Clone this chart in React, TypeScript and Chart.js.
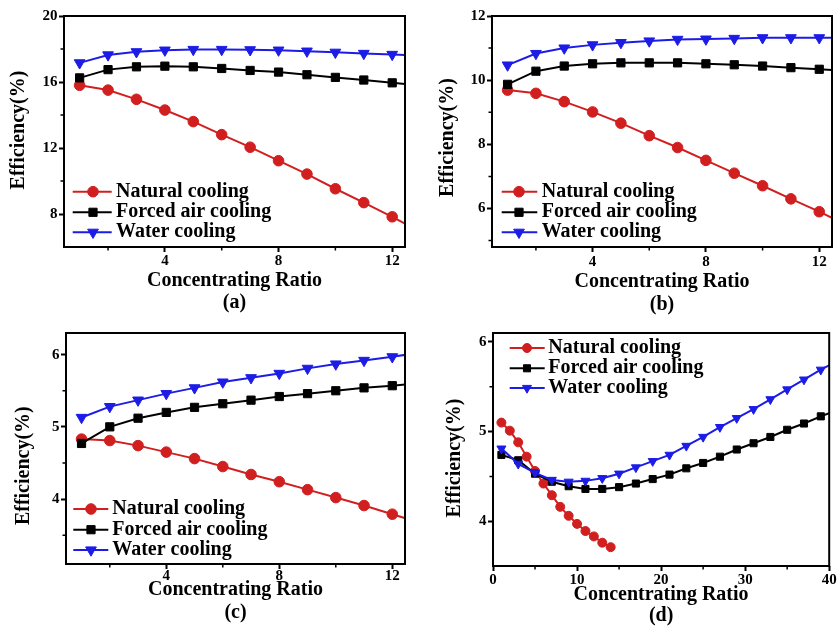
import React, { useEffect, useRef } from 'react';
import { Chart, registerables } from 'chart.js';
import { drawPoint } from 'chart.js/helpers';

Chart.register(...registerables);

// ---------------- data ----------------
const SERIES_NAMES = ['Natural cooling', 'Forced air cooling', 'Water cooling'];

const ratioABC = [1, 2, 3, 4, 5, 6, 7, 8, 9, 10, 11, 12, 13];

const naturalA = [15.8, 15.51, 14.95, 14.3, 13.6, 12.81, 12.05, 11.23, 10.42, 9.53, 8.69, 7.83, 6.9];
const forcedA = [16.25, 16.75, 16.92, 16.96, 16.92, 16.82, 16.7, 16.6, 16.44, 16.28, 16.12, 15.95, 15.78];
const waterA = [17.16, 17.64, 17.83, 17.93, 17.97, 17.97, 17.95, 17.93, 17.87, 17.8, 17.73, 17.67, 17.6];

const naturalB = [9.69, 9.59, 9.33, 9.01, 8.66, 8.27, 7.9, 7.5, 7.1, 6.71, 6.3, 5.9, 5.48];
const forcedB = [9.87, 10.28, 10.44, 10.51, 10.54, 10.54, 10.54, 10.51, 10.48, 10.44, 10.39, 10.34, 10.29];
const waterB = [10.47, 10.83, 11.0, 11.1, 11.17, 11.22, 11.27, 11.28, 11.3, 11.32, 11.32, 11.32, 11.32];

const naturalC = [4.83, 4.81, 4.74, 4.65, 4.56, 4.45, 4.34, 4.24, 4.13, 4.02, 3.91, 3.79, 3.67];
const forcedC = [4.77, 5.0, 5.12, 5.2, 5.27, 5.32, 5.37, 5.42, 5.46, 5.5, 5.54, 5.57, 5.61];
const waterC = [5.13, 5.28, 5.37, 5.46, 5.54, 5.62, 5.68, 5.74, 5.81, 5.87, 5.92, 5.97, 6.03];

const ratioDNatural = [1, 2, 3, 4, 5, 6, 7, 8, 9, 10, 11, 12, 13, 14];
const ratioDOther = [1, 3, 5, 7, 9, 11, 13, 15, 17, 19, 21, 23, 25, 27, 29, 31, 33, 35, 37, 39, 41];
const naturalD = [5.1, 5.01, 4.88, 4.72, 4.56, 4.42, 4.29, 4.16, 4.06, 3.97, 3.89, 3.83, 3.76, 3.71];
const forcedD = [4.74, 4.68, 4.53, 4.44, 4.39, 4.36, 4.36, 4.38, 4.42, 4.47, 4.52, 4.59, 4.65, 4.72, 4.8, 4.87, 4.94, 5.02, 5.09, 5.17, 5.24];
const waterD = [4.81, 4.64, 4.54, 4.46, 4.44, 4.45, 4.48, 4.53, 4.6, 4.67, 4.74, 4.84, 4.94, 5.05, 5.15, 5.25, 5.36, 5.47, 5.58, 5.69, 5.79];

const xTicksABC = [4, 8, 12];
const xMinorABC = [2, 6, 10];
const yTicksA = [8, 12, 16, 20];
const yMinorA = [10, 14, 18];
const yTicksB = [6, 8, 10, 12];
const yMinorB = [5, 7, 9, 11];
const yTicksC = [4, 5, 6];
const yMinorC = [3.5, 4.5, 5.5];
const xTicksD = [0, 10, 20, 30, 40];
const xMinorD = [5, 15, 25, 35];
const yTicksD = [4, 5, 6];
const yMinorD = [4.5, 5.5];

// ---------------- style ----------------
const FAMILY = "'Liberation Serif', 'Times New Roman', serif";
const COLORS = ['#d11f1f', '#000000', '#1c1ce6'];
const STYLES = ['circle', 'rect', 'triangle'];
const ROTS = [0, 0, 180];

type Panel = {
  label: string;
  cx: number; cy: number; cw: number; ch: number;
  area: { l: number; t: number; r: number; b: number };
  xMin: number; xMax: number; yMin: number; yMax: number;
  xMajor: number[]; xMinor: number[]; yMajor: number[]; yMinor: number[];
  tickPadX: number; titleOff: number; labelOff: number;
  yTitle: { x: number; y: number };
  legend: { x1: number; x2: number; mx: number; tx: number; rows: number[] };
  radii: number[];
  series: { x: number[]; y: number[] }[];
};

const PANELS: Panel[] = [
  {
    label: '(a)', cx: 0, cy: 0, cw: 419, ch: 330,
    area: { l: 64, t: 16, r: 405, b: 247 },
    xMin: 0.45, xMax: 12.45, yMin: 6, yMax: 20,
    xMajor: xTicksABC, xMinor: xMinorABC, yMajor: yTicksA, yMinor: yMinorA,
    tickPadX: 1.9, titleOff: 34, labelOff: 55.5,
    yTitle: { x: 19, y: 130 },
    legend: { x1: 72.7, x2: 111.7, mx: 93, tx: 116, rows: [191.7, 212.3, 232.3] },
    radii: [5.3, 5.8, 6.2],
    series: [{ x: ratioABC, y: naturalA }, { x: ratioABC, y: forcedA }, { x: ratioABC, y: waterA }],
  },
  {
    label: '(b)', cx: 419, cy: 0, cw: 419, ch: 330,
    area: { l: 492, t: 16, r: 832, b: 247 },
    xMin: 0.45, xMax: 12.45, yMin: 4.8, yMax: 12,
    xMajor: xTicksABC, xMinor: xMinorABC, yMajor: yTicksB, yMinor: yMinorB,
    tickPadX: 2.2, titleOff: 34.7, labelOff: 58,
    yTitle: { x: 448.3, y: 137.5 },
    legend: { x1: 501.7, x2: 537.3, mx: 519, tx: 541.7, rows: [191.7, 212.3, 232.3] },
    radii: [5.3, 5.8, 6.2],
    series: [{ x: ratioABC, y: naturalB }, { x: ratioABC, y: forcedB }, { x: ratioABC, y: waterB }],
  },
  {
    label: '(c)', cx: 0, cy: 314, cw: 419, ch: 314,
    area: { l: 66, t: 333, r: 405, b: 564 },
    xMin: 0.45, xMax: 12.45, yMin: 3.1, yMax: 6.3,
    xMajor: xTicksABC, xMinor: xMinorABC, yMajor: yTicksC, yMinor: yMinorC,
    tickPadX: 0, titleOff: 26, labelOff: 49.2,
    yTitle: { x: 24, y: 465.7 },
    legend: { x1: 73.3, x2: 108.3, mx: 91, tx: 112.3, rows: [509, 529.7, 550] },
    radii: [5.3, 5.8, 6.2],
    series: [{ x: ratioABC, y: naturalC }, { x: ratioABC, y: forcedC }, { x: ratioABC, y: waterC }],
  },
  {
    label: '(d)', cx: 419, cy: 314, cw: 419, ch: 314,
    area: { l: 493, t: 333, r: 831, b: 566 },
    xMin: 0, xMax: 40, yMin: 3.5, yMax: 6.1,
    xMajor: xTicksD, xMinor: xMinorD, yMajor: yTicksD, yMinor: yMinorD,
    tickPadX: 1.3, titleOff: 28.8, labelOff: 49.7,
    yTitle: { x: 454.9, y: 458 },
    legend: { x1: 509.7, x2: 544.7, mx: 527, tx: 548.3, rows: [348, 368.3, 388] },
    radii: [4.5, 5.0, 5.2],
    series: [{ x: ratioDNatural, y: naturalD }, { x: ratioDOther, y: forcedD }, { x: ratioDOther, y: waterD }],
  },
];

const decorPlugin = {
  id: 'panelDecor',
  afterDatasetsDraw(chart: any, _args: any, opts: any) {
    const { ctx, chartArea: a, scales } = chart;
    const xs = scales.x;
    const ys = scales.y;
    ctx.save();
    // minor ticks
    ctx.strokeStyle = '#000';
    ctx.lineWidth = 1.5;
    ctx.beginPath();
    for (const v of opts.xMinor) {
      const px = xs.getPixelForValue(v);
      ctx.moveTo(px, a.bottom);
      ctx.lineTo(px, a.bottom + 3.5);
    }
    for (const v of opts.yMinor) {
      const py = ys.getPixelForValue(v);
      ctx.moveTo(a.left - 3.5, py);
      ctx.lineTo(a.left, py);
    }
    ctx.stroke();
    // frame
    ctx.lineWidth = 2;
    ctx.strokeRect(a.left, a.top, a.right - a.left, a.bottom - a.top);
    // legend
    const L = opts.legend;
    chart.data.datasets.forEach((ds: any, i: number) => {
      const y = L.rows[i];
      ctx.strokeStyle = ds.borderColor;
      ctx.lineWidth = ds.borderWidth;
      ctx.beginPath();
      ctx.moveTo(L.x1, y);
      ctx.lineTo(L.x2, y);
      ctx.stroke();
      ctx.fillStyle = ds.pointBackgroundColor;
      ctx.strokeStyle = ds.pointBorderColor;
      ctx.lineWidth = 1;
      drawPoint(ctx, { pointStyle: ds.pointStyle, rotation: ds.pointRotation || 0, radius: ds.pointRadius, borderWidth: 1 } as any, L.mx, y);
      ctx.fillStyle = '#000';
      ctx.font = `bold 20px ${FAMILY}`;
      ctx.textAlign = 'left';
      ctx.textBaseline = 'middle';
      ctx.fillText(ds.label, L.tx, y);
    });
    // y-axis title
    ctx.translate(opts.yTitle.x, opts.yTitle.y);
    ctx.rotate(-Math.PI / 2);
    ctx.fillStyle = '#000';
    ctx.font = `bold 20px ${FAMILY}`;
    ctx.textAlign = 'center';
    ctx.textBaseline = 'middle';
    ctx.fillText('Efficiency(%)', 0, 0);
    ctx.restore();
  },
};

function PanelChart({ p }: { p: Panel }) {
  const ref = useRef<HTMLCanvasElement | null>(null);
  useEffect(() => {
    if (!ref.current) return;
    const yAxisW = p.area.l - p.cx;
    const padTop = p.area.t - p.cy;
    const padRight = p.cx + p.cw - p.area.r;
    const xAxisH = p.titleOff + 10;
    const titlePadTop = p.labelOff - xAxisH - 10;
    const titleH = 20 + titlePadTop;
    const padBottom = p.cy + p.ch - p.area.b - xAxisH - titleH;

    const datasets = p.series.map((s, i) => ({
      label: SERIES_NAMES[i],
      data: s.x.map((xv, j) => ({ x: xv, y: s.y[j] })),
      borderColor: COLORS[i],
      backgroundColor: COLORS[i],
      pointBackgroundColor: COLORS[i],
      pointBorderColor: COLORS[i],
      pointBorderWidth: 1,
      borderWidth: 2,
      pointStyle: STYLES[i],
      pointRotation: ROTS[i],
      pointRadius: p.radii[i],
      order: 3 - i,
      clip: 0,
      tension: 0,
      fill: false,
    }));

    const tickFont = { family: FAMILY, size: 15, weight: 'bold' as const, lineHeight: 1 };
    const chart = new Chart(ref.current, {
      type: 'line',
      data: { datasets: datasets as any },
      plugins: [decorPlugin as any],
      options: {
        animation: false,
        responsive: false,
        maintainAspectRatio: false,
        devicePixelRatio: 1,
        events: [],
        layout: {
          autoPadding: false,
          padding: { left: 0, top: padTop, right: padRight, bottom: padBottom },
        },
        scales: {
          x: {
            type: 'linear',
            min: p.xMin,
            max: p.xMax,
            afterBuildTicks: (s: any) => { s.ticks = p.xMajor.map((v) => ({ value: v })); },
            afterFit: (s: any) => { s.height = xAxisH; },
            ticks: { font: tickFont, color: '#000', padding: p.tickPadX, maxRotation: 0, autoSkip: false, callback: (v: any) => String(v) },
            grid: { drawOnChartArea: false, drawTicks: true, tickLength: 5, tickWidth: 2, tickColor: '#000' },
            border: { display: false },
            title: {
              display: true,
              text: 'Concentrating Ratio',
              color: '#000',
              font: { family: FAMILY, size: 20, weight: 'bold', lineHeight: 1 },
              padding: { top: 0, bottom: 0 },
            },
          },
          y: {
            type: 'linear',
            position: 'left',
            min: p.yMin,
            max: p.yMax,
            afterBuildTicks: (s: any) => { s.ticks = p.yMajor.map((v) => ({ value: v })); },
            afterFit: (s: any) => { s.width = yAxisW; },
            ticks: { font: tickFont, color: '#000', padding: 1.5, autoSkip: false, callback: (v: any) => String(v) },
            grid: { drawOnChartArea: false, drawTicks: true, tickLength: 5, tickWidth: 2, tickColor: '#000' },
            border: { display: false },
          },
        },
        plugins: {
          legend: { display: false },
          tooltip: { enabled: false },
          title: {
            display: true,
            text: p.label,
            position: 'bottom',
            fullSize: false,
            color: '#000',
            font: { family: FAMILY, size: 20, weight: 'bold', lineHeight: 1 },
            padding: { top: titlePadTop, bottom: 0 },
          },
          panelDecor: {
            xMinor: p.xMinor,
            yMinor: p.yMinor,
            legend: {
              x1: p.legend.x1 - p.cx,
              x2: p.legend.x2 - p.cx,
              mx: p.legend.mx - p.cx,
              tx: p.legend.tx - p.cx,
              rows: p.legend.rows.map((r) => r - p.cy),
            },
            yTitle: { x: p.yTitle.x - p.cx, y: p.yTitle.y - p.cy },
          },
        } as any,
      },
    });
    return () => chart.destroy();
  }, [p]);
  return (
    <canvas
      ref={ref}
      width={p.cw}
      height={p.ch}
      style={{ position: 'absolute', left: p.cx, top: p.cy, width: p.cw, height: p.ch }}
    />
  );
}

export default function App() {
  return (
    <div style={{ position: 'absolute', left: 0, top: 0, width: 838, height: 628, background: '#ffffff', overflow: 'hidden' }}>
      {PANELS.map((p) => (
        <PanelChart key={p.label} p={p} />
      ))}
    </div>
  );
}
